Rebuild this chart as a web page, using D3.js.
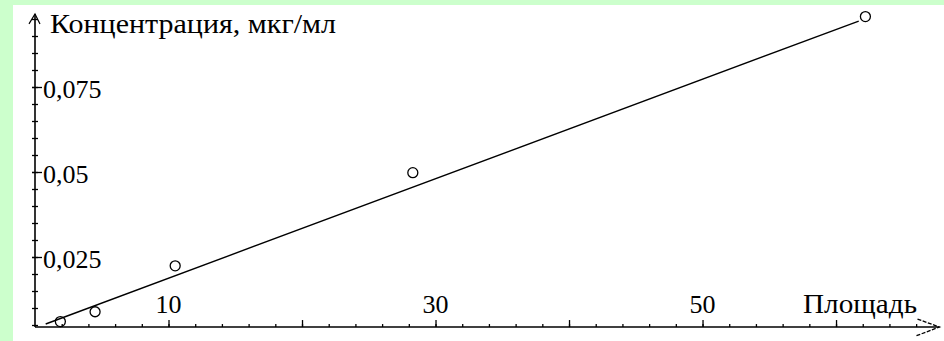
<!DOCTYPE html>
<html>
<head>
<meta charset="utf-8">
<script src="https://cdn.jsdelivr.net/npm/d3@7"></script>
<style>
  html, body { margin: 0; padding: 0; background: #ccffcc; }
  svg { display: block; }
</style>
</head>
<body>
<div id="container"></div>
<script>
/* DATA */
const areas = [1.9, 4.5, 10.5, 28.3, 62.2];
const concentrations = [0.006, 0.0089, 0.0224, 0.0498, 0.0957];
const fitAreas = [0.8, 61.7];
const fitConc = [0.0053, 0.0944];
const xLabelTicks = [10, 30, 50];
const yLabelTicks = [0.025, 0.05, 0.075];
const xTitle = "Площадь";
const yTitle = "Концентрация, мкг/мл";

/* CONSTANTS */
const width = 944, height = 341;
const xView = [0, 67.75];
const yView = [0.0044, 0.0965];
const serif = '"Liberation Serif", "DejaVu Serif", "Times New Roman", serif';

const svg = d3.select('#container')
  .append('svg')
  .attr('width', width)
  .attr('height', height)
  .attr('font-family', serif);

// white plot panel on green page
svg.append('rect')
  .attr('x', 13).attr('y', 5)
  .attr('width', width - 13).attr('height', height - 5)
  .attr('fill', '#ffffff');

const xScale = d3.scaleLinear().domain([0, 67.75]).range([35, 939.5]);
const yScale = d3.scaleLinear().domain([0, 0.1]).range([342, 2]);

const x0 = xScale(0);
const yBase = yScale(yView[0]);

// minor / major tick values
const xMinor = d3.range(2, 67, 2);
const xMajor = d3.range(10, 67, 10);
const yMinor = d3.range(0.005, 0.0961, 0.005);
const yMajor = yLabelTicks;

// X axis ticks (pointing up)
svg.append('g')
  .attr('transform', `translate(0, ${yBase})`)
  .call(d3.axisTop(xScale).tickValues(xMinor).tickSize(3).tickFormat(''));
svg.append('g')
  .attr('transform', `translate(0, ${yBase})`)
  .call(d3.axisTop(xScale).tickValues(xMajor).tickSize(7).tickFormat(''));

// Y axis ticks (crossing the axis)
const yAxisMinor = svg.append('g')
  .attr('transform', `translate(${x0}, 0)`)
  .call(d3.axisLeft(yScale).tickValues(yMinor).tickSize(3).tickFormat(''));
yAxisMinor.selectAll('.tick line').attr('x1', 3);
const yAxisMajor = svg.append('g')
  .attr('transform', `translate(${x0}, 0)`)
  .call(d3.axisLeft(yScale).tickValues(yMajor).tickSize(3).tickFormat(''));
yAxisMajor.selectAll('.tick line').attr('x1', 7);

svg.selectAll('.domain').remove();
svg.selectAll('.tick line')
  .attr('stroke', '#000')
  .attr('stroke-width', 1.3);

// axis lines with arrows
svg.append('line')
  .attr('x1', x0).attr('x2', xScale(xView[1]))
  .attr('y1', yBase).attr('y2', yBase)
  .attr('stroke', '#000').attr('stroke-width', 1.6);
svg.append('line')
  .attr('x1', x0).attr('x2', x0)
  .attr('y1', yBase).attr('y2', yScale(yView[1]))
  .attr('stroke', '#000').attr('stroke-width', 1.6);

const xEnd = xScale(xView[1]);
svg.append('path')
  .attr('d', `M${xEnd - 22},${yBase - 8} L${xEnd},${yBase} L${xEnd - 24},${yBase + 9}`)
  .attr('fill', 'none').attr('stroke', '#000').attr('stroke-width', 1.3)
  .attr('stroke-dasharray', '4,1.5');
const yEnd = yScale(yView[1]);
svg.append('path')
  .attr('d', `M${x0 - 6},${yEnd + 10} L${x0},${yEnd} L${x0 + 5},${yEnd + 10}`)
  .attr('fill', 'none').attr('stroke', '#000').attr('stroke-width', 1.2);

// tick labels
const ruLocale = d3.formatLocale({ decimal: ',', thousands: ' ', grouping: [3], currency: ['', ''] });
const yFmt = ruLocale.format('.3~f');

svg.selectAll('text.x-label')
  .data(xLabelTicks)
  .join('text')
  .attr('class', 'x-label')
  .attr('x', d => xScale(d))
  .attr('y', 313)
  .attr('text-anchor', 'middle')
  .attr('font-size', '26px')
  .text(d => d);

svg.selectAll('text.y-label')
  .data(yLabelTicks)
  .join('text')
  .attr('class', 'y-label')
  .attr('x', x0 + 8)
  .attr('y', d => yScale(d))
  .attr('dy', '0.42em')
  .attr('font-size', '26px')
  .text(d => yFmt(d));

// axis titles (stretched to the width of the original lettering)
svg.append('text')
  .attr('x', 803)
  .attr('y', 313)
  .attr('font-size', '27px')
  .attr('textLength', 114)
  .attr('lengthAdjust', 'spacingAndGlyphs')
  .text(xTitle);

svg.append('text')
  .attr('x', 50)
  .attr('y', 33)
  .attr('font-size', '27px')
  .attr('textLength', 286)
  .attr('lengthAdjust', 'spacingAndGlyphs')
  .text(yTitle);

// regression line
const line = d3.line()
  .x(d => xScale(d[0]))
  .y(d => yScale(d[1]));
svg.append('path')
  .datum(d3.zip(fitAreas, fitConc))
  .attr('d', line)
  .attr('fill', 'none')
  .attr('stroke', '#000')
  .attr('stroke-width', 1.4);

// data points
svg.selectAll('circle.pt')
  .data(d3.zip(areas, concentrations))
  .join('circle')
  .attr('class', 'pt')
  .attr('cx', d => xScale(d[0]))
  .attr('cy', d => yScale(d[1]))
  .attr('r', 5)
  .attr('fill', 'none')
  .attr('stroke', '#000')
  .attr('stroke-width', 1.3);
</script>
</body>
</html>
